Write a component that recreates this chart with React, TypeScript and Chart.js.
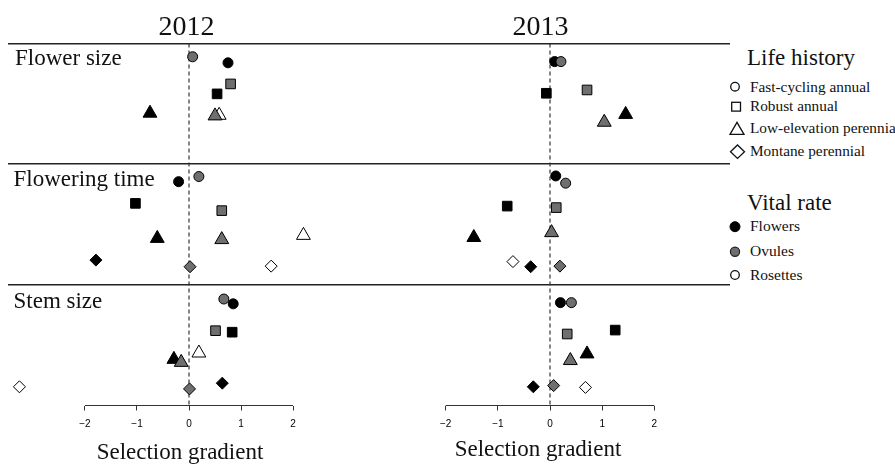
import React, { useEffect, useRef } from 'react';
import { Chart, registerables } from 'chart.js';

Chart.register(...registerables);

// ---------- data ----------
const years = ['2012', '2013'];
const traits = ['Flower size', 'Flowering time', 'Stem size'];
const lifeHistories = ['Fast-cycling annual', 'Robust annual', 'Low-elevation perennial', 'Montane perennial'];
const lifeHistoryShapes = ['circle', 'rect', 'triangle', 'rectRot'];
const vitalRates = ['Flowers', 'Ovules', 'Rosettes'];
const vitalRateFills = ['#000000', '#6f6f6f', '#ffffff'];
const xTickValues = [-2, -1, 0, 1, 2];
const xAxisTitle = 'Selection gradient';

// selection gradients: rows = trait, columns = life history (null = not estimated)
const flowers2012 = [
  [0.75, 0.54, -0.75, null],
  [-0.2, -1.03, -0.61, -1.79],
  [0.85, 0.83, -0.29, 0.64],
];
const ovules2012 = [
  [0.07, 0.8, 0.5, null],
  [0.19, 0.63, 0.63, 0.02],
  [0.67, 0.51, -0.15, 0.01],
];
const rosettes2012 = [
  [null, null, 0.58, null],
  [null, null, 2.2, 1.58],
  [null, null, 0.19, -3.26],
];
const flowers2013 = [
  [0.09, -0.07, 1.45, null],
  [0.11, -0.82, -1.46, -0.37],
  [0.2, 1.25, 0.71, -0.32],
];
const ovules2013 = [
  [0.21, 0.71, 1.04, null],
  [0.3, 0.12, 0.03, 0.19],
  [0.41, 0.33, 0.39, 0.07],
];
const rosettes2013 = [
  [null, null, null, null],
  [null, null, null, -0.71],
  [null, null, null, 0.68],
];

// vertical plotting positions (row + jitter), 4 units per trait block
const flowers2012Row = [
  [0.64, 1.67, 2.31, null],
  [4.58, 5.3, 6.46, 7.18],
  [8.63, 9.57, 10.47, 11.26],
];
const ovules2012Row = [
  [0.44, 1.34, 2.4, null],
  [4.41, 5.54, 6.5, 7.4],
  [8.47, 9.52, 10.57, 11.45],
];
const rosettes2012Row = [
  [null, null, 2.38, null],
  [null, null, 6.36, 7.38],
  [null, null, 10.26, 11.38],
];
const flowers2013Row = [
  [0.6, 1.65, 2.35, null],
  [4.39, 5.39, 6.43, 7.4],
  [8.59, 9.5, 10.29, 11.38],
];
const ovules2013Row = [
  [0.6, 1.54, 2.61, null],
  [4.63, 5.44, 6.27, 7.38],
  [8.59, 9.63, 10.51, 11.34],
];
const rosettes2013Row = [
  [null, null, null, null],
  [null, null, null, 7.23],
  [null, null, null, 11.4],
];

// ---------- helpers ----------
const shapeRadius: Record<string, number> = { circle: 5, rect: 6.8, triangle: 8, rectRot: 6 };

function buildPoints(values: (number | null)[][], rows: (number | null)[][]) {
  const pts: { x: number; y: number; l: number }[] = [];
  values.forEach((traitVals, t) =>
    traitVals.forEach((v, l) => {
      const r = rows[t][l];
      if (v !== null && r !== null) pts.push({ x: v, y: r, l });
    })
  );
  return pts;
}

function buildDatasets(sets: [number, (number | null)[][], (number | null)[][]][]) {
  const drawOrder = [2, 1, 3];
  const ds: any[] = sets.map(([vr, values, rows]) => ({
    type: 'scatter',
    label: vitalRates[vr],
    data: buildPoints(values, rows),
    order: drawOrder[vr],
    backgroundColor: vitalRateFills[vr],
    borderColor: '#000000',
    borderWidth: 1,
    pointStyle: (c: any) => lifeHistoryShapes[c.raw ? c.raw.l : 0],
    pointRadius: (c: any) => shapeRadius[lifeHistoryShapes[c.raw ? c.raw.l : 0]],
    pointHoverRadius: (c: any) => shapeRadius[lifeHistoryShapes[c.raw ? c.raw.l : 0]],
    clip: false,
  }));
  ds.push({
    type: 'line',
    label: 'zero',
    data: [
      { x: 0, y: 0 },
      { x: 0, y: traits.length * 4 },
    ],
    borderColor: '#333333',
    borderWidth: 1.2,
    borderDash: [4, 3],
    pointRadius: 0,
    order: 10,
  });
  return ds;
}

const axisLinePlugin = {
  id: 'rAxisLine',
  afterDraw(chart: any) {
    const { ctx, chartArea } = chart;
    const x = chart.scales.x;
    ctx.save();
    ctx.strokeStyle = '#333333';
    ctx.lineWidth = 1;
    ctx.beginPath();
    ctx.moveTo(x.getPixelForValue(xTickValues[0]), chartArea.bottom);
    ctx.lineTo(x.getPixelForValue(xTickValues[xTickValues.length - 1]), chartArea.bottom);
    ctx.stroke();
    ctx.restore();
  },
};

function Panel({ datasets, left, width, padLeft, range }: any) {
  const ref = useRef<HTMLCanvasElement>(null);
  useEffect(() => {
    const chart = new Chart(ref.current as HTMLCanvasElement, {
      type: 'scatter',
      data: { datasets },
      options: {
        animation: false,
        responsive: false,
        maintainAspectRatio: false,
        layout: { autoPadding: false, padding: { left: padLeft, right: 0, top: 43.5, bottom: 0 } },
        plugins: { legend: { display: false }, tooltip: { enabled: false } },
        scales: {
          x: {
            type: 'linear',
            min: -range,
            max: range,
            afterFit: (s: any) => {
              s.height = 58.5;
              s.paddingLeft = 0;
              s.paddingRight = 0;
            },
            afterBuildTicks: (s: any) => {
              s.ticks = xTickValues.map((v) => ({ value: v }));
            },
            border: { display: false },
            grid: { drawOnChartArea: false, drawTicks: true, tickLength: 5, color: '#333333', lineWidth: 1 },
            ticks: {
              padding: 8,
              color: '#000000',
              font: { family: 'Liberation Sans', size: 10 },
              maxRotation: 0,
              autoSkip: false,
              callback: (v: any) => (Number(v) < 0 ? '\u2212' + Math.abs(Number(v)) : String(v)),
            },
          },
          y: {
            type: 'linear',
            reverse: true,
            min: 0,
            max: traits.length * 4,
            afterFit: (s: any) => {
              s.width = 0;
              s.paddingTop = 0;
              s.paddingBottom = 0;
            },
            border: { display: false },
            ticks: { display: false, stepSize: 4 },
            grid: {
              drawTicks: false,
              lineWidth: 1.4,
              color: (c: any) => (c.tick && c.tick.value === traits.length * 4 ? 'rgba(0,0,0,0)' : '#222222'),
            },
          },
        },
      },
      plugins: [axisLinePlugin],
    } as any);
    return () => chart.destroy();
  }, []);
  return (
    <canvas
      ref={ref}
      width={width}
      height={464}
      style={{ position: 'absolute', left, top: 0, width, height: 464 }}
    />
  );
}

const serif = '"Liberation Serif", "Times New Roman", serif';

function Txt({ x, baseline, size, center, children }: any) {
  return (
    <div
      style={{
        position: 'absolute',
        left: x,
        top: baseline - 0.8375 * size,
        fontFamily: serif,
        fontSize: size,
        lineHeight: `${size}px`,
        color: '#111',
        whiteSpace: 'nowrap',
        transform: center ? 'translateX(-50%)' : undefined,
      }}
    >
      {children}
    </div>
  );
}

export default function App() {
  const ds2012 = buildDatasets([
    [0, flowers2012, flowers2012Row],
    [1, ovules2012, ovules2012Row],
    [2, rosettes2012, rosettes2012Row],
  ]);
  const ds2013 = buildDatasets([
    [0, flowers2013, flowers2013Row],
    [1, ovules2013, ovules2013Row],
    [2, rosettes2013, rosettes2013Row],
  ]);
  const traitBaselines = [65, 186.5, 308];
  const lhBaselines = [91.5, 111, 132.5, 155.5];
  const vrBaselines = [231, 256, 279.5];
  return (
    <div style={{ position: 'absolute', left: 0, top: 0, width: 895, height: 464, background: '#fff', overflow: 'hidden' }}>
      <Panel datasets={ds2012} left={0} width={370} padLeft={8} range={3.48} />
      <Panel datasets={ds2013} left={370} width={360} padLeft={0} range={3.45} />

      <Txt x={186.5} baseline={35} size={28} center>{years[0]}</Txt>
      <Txt x={540.5} baseline={35} size={28} center>{years[1]}</Txt>
      {traits.map((t, i) => (
        <Txt key={t} x={i === 0 ? 15 : 13.5} baseline={traitBaselines[i]} size={23}>{t}</Txt>
      ))}
      <Txt x={180} baseline={459} size={23} center>{xAxisTitle}</Txt>
      <Txt x={538} baseline={456} size={23} center>{xAxisTitle}</Txt>

      <Txt x={747} baseline={65} size={23}>Life history</Txt>
      {lifeHistories.map((l, i) => (
        <Txt key={l} x={750} baseline={lhBaselines[i]} size={15.3}>{l}</Txt>
      ))}
      <Txt x={747} baseline={210} size={23}>Vital rate</Txt>
      {vitalRates.map((v, i) => (
        <Txt key={v} x={750} baseline={vrBaselines[i]} size={15.5}>{v}</Txt>
      ))}

      <svg width={895} height={464} style={{ position: 'absolute', left: 0, top: 0, pointerEvents: 'none' }}>
        <g fill="#fff" stroke="#111" strokeWidth={1.3}>
          <circle cx={735} cy={86.7} r={4.3} />
          <rect x={731.7} y={102.3} width={8.8} height={8.8} />
          <polygon points="730,134.3 744,134.3 737,122.3" />
          <polygon points="730.5,151.7 737.5,145 744.5,151.7 737.5,158.4" />
        </g>
        <circle cx={735} cy={226.7} r={5} fill={vitalRateFills[0]} stroke="#000" strokeWidth={1} />
        <circle cx={735} cy={251.7} r={4.6} fill={vitalRateFills[1]} stroke="#222" strokeWidth={1.2} />
        <circle cx={735} cy={275} r={4.3} fill={vitalRateFills[2]} stroke="#111" strokeWidth={1.3} />
      </svg>
    </div>
  );
}
